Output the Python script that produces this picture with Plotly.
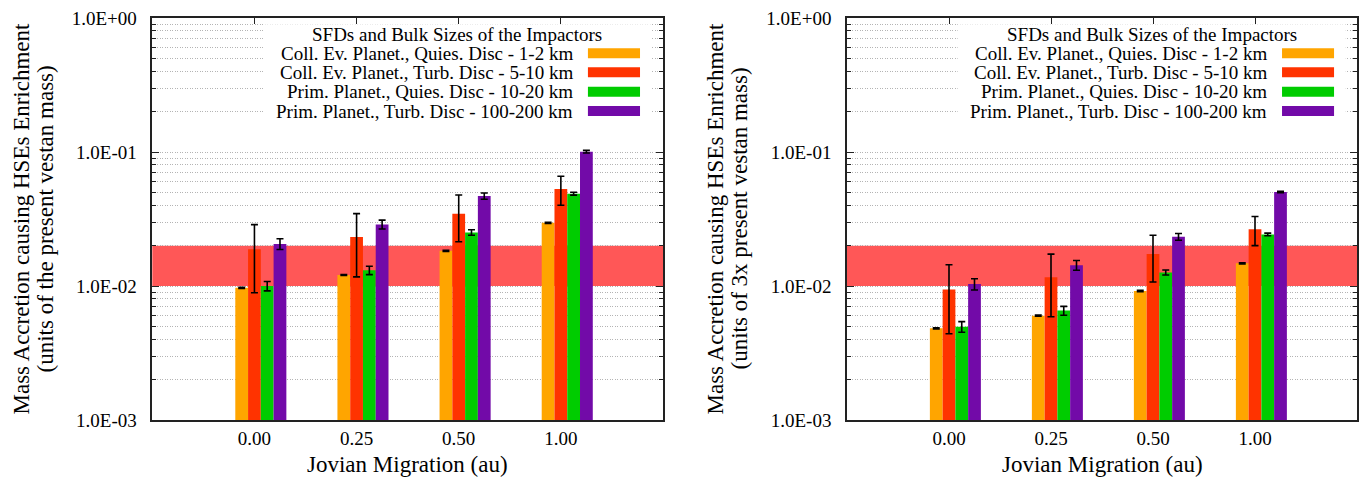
import plotly.graph_objects as go

# ---------------- data ----------------
migration = ["0.00", "0.25", "0.50", "1.00"]

series_names = [
    "Coll. Ev. Planet., Quies. Disc - 1-2 km",
    "Coll. Ev. Planet., Turb. Disc - 5-10 km",
    "Prim. Planet., Quies. Disc - 10-20 km",
    "Prim. Planet., Turb. Disc - 100-200 km",
]
legend_title = "SFDs and Bulk Sizes of the Impactors"
series_colors = ["#ffa500", "#ff3300", "#00cc00", "#720aa8"]

# left panel: units of the present vestan mass
left_coll_quies = [0.0097, 0.0121, 0.0183, 0.0296]
left_coll_quies_err = [0.0001, 0.0001, 0.0002, 0.0003]
left_coll_turb = [0.0188, 0.0232, 0.0346, 0.0530]
left_coll_turb_err = [0.0099, 0.0115, 0.0132, 0.0130]
left_prim_quies = [0.0100, 0.0131, 0.0251, 0.0489]
left_prim_quies_err = [0.0008, 0.00095, 0.0012, 0.0012]
left_prim_turb = [0.0206, 0.0288, 0.0469, 0.1006]
left_prim_turb_err = [0.0019, 0.0022, 0.0025, 0.0023]

# right panel: units of 3x present vestan mass
right_coll_quies = [0.00483, 0.0060, 0.00918, 0.01476]
right_coll_quies_err = [0.00005, 0.00006, 0.0001, 0.00015]
right_coll_turb = [0.0094, 0.0116, 0.0173, 0.0265]
right_coll_turb_err = [0.0050, 0.0057, 0.0066, 0.0065]
right_prim_quies = [0.00497, 0.00655, 0.01262, 0.02427]
right_prim_quies_err = [0.00045, 0.0005, 0.00055, 0.00055]
right_prim_turb = [0.01033, 0.0143, 0.0233, 0.0503]
right_prim_turb_err = [0.0010, 0.0012, 0.00135, 0.0007]

band_low = 0.01
band_high = 0.02

ytick_vals = [0.001, 0.01, 0.1, 1.0]
ytick_text = ["1.0E-03", "1.0E-02", "1.0E-01", "1.0E+00"]
minor_vals = [m * 10.0 ** e for e in (-3, -2, -1) for m in range(2, 10)]

x_title = "Jovian Migration (au)"
left_ytitle = ["Mass Accretion causing HSEs Enrichment", "(units of the present vestan mass)"]
right_ytitle = ["Mass Accretion causing HSEs Enrichment", "(units of 3x present vestan mass)"]

# ---------------- figure ----------------
W, H = 1363, 479
FONT = "Liberation Serif, Times New Roman, serif"
top_px, bottom_px = 18, 420
left_dom = [152.3 / W, 663 / W]
right_dom = [847 / W, 1357 / W]
GRID = "#b4b4b4"
GRIDDASH = "1px,1.5px"

panels = [
    dict(xa="x", ya="y", dom=left_dom,
         vals=[left_coll_quies, left_coll_turb, left_prim_quies, left_prim_turb],
         errs=[left_coll_quies_err, left_coll_turb_err, left_prim_quies_err, left_prim_turb_err],
         ytitle=left_ytitle, ytitle_px=[20.5, 44.5]),
    dict(xa="x2", ya="y2", dom=right_dom,
         vals=[right_coll_quies, right_coll_turb, right_prim_quies, right_prim_turb],
         errs=[right_coll_quies_err, right_coll_turb_err, right_prim_quies_err, right_prim_turb_err],
         ytitle=right_ytitle, ytitle_px=[714.5, 738.5]),
]

bar_w = 0.125
xpos = list(range(len(migration)))

fig = go.Figure()
shapes = []
annotations = []
layout_axes = {}

plot_h = bottom_px - top_px

def ydom(px):
    return 1 - (px - top_px) / plot_h

for k, p in enumerate(panels):
    for i, (v, e) in enumerate(zip(p["vals"], p["errs"])):
        fig.add_trace(go.Bar(
            x=xpos, y=v, width=bar_w, offset=(i - 1) * bar_w - bar_w / 2,
            marker=dict(color=series_colors[i], line=dict(width=0)),
            error_y=dict(type="data", array=e, color="black", thickness=1.6, width=3.5),
            xaxis=p["xa"], yaxis=p["ya"], showlegend=False, name=series_names[i],
        ))
    sfx = "" if k == 0 else "2"
    layout_axes["xaxis" + sfx] = dict(
        domain=p["dom"], range=[-1, 4], anchor=p["ya"],
        tickmode="array", tickvals=xpos, ticktext=migration,
        ticks="inside", ticklen=6, tickwidth=1.2, tickcolor="#222",
        showline=True, linecolor="#222", linewidth=1.5, mirror="ticks",
        showgrid=False, zeroline=False, layer="below traces",
        tickfont=dict(family=FONT, size=19, color="black"), ticklabelstandoff=0,
    )
    layout_axes["yaxis" + sfx] = dict(
        domain=[0, 1], type="log", range=[-3, 0], anchor=p["xa"],
        tickmode="array", tickvals=ytick_vals, ticktext=ytick_text,
        ticks="inside", ticklen=7, tickwidth=1.2, tickcolor="#222",
        showline=True, linecolor="#222", linewidth=1.5, mirror="allticks",
        showgrid=True, gridcolor=GRID, gridwidth=1, griddash=GRIDDASH,
        minor=dict(tickmode="array", tickvals=minor_vals, ticks="inside", ticklen=4,
                   tickwidth=1, tickcolor="#222", showgrid=True,
                   gridcolor=GRID, gridwidth=1, griddash=GRIDDASH),
        zeroline=False,
        tickfont=dict(family=FONT, size=19, color="black"), ticklabelstandoff=10,
    )
    xd = p["xa"] + " domain"
    yd = p["ya"] + " domain"
    # red band
    shapes.append(dict(type="rect", xref=xd, yref=p["ya"], x0=0, x1=1,
                       y0=band_low, y1=band_high, fillcolor="#ff5757",
                       line=dict(width=0), layer="below"))
    # legend background (kept below the top tick marks)
    shapes.append(dict(type="rect", xref=xd, yref=yd, x0=0.2168, x1=0.978,
                       y0=ydom(122), y1=ydom(24.2), fillcolor="white",
                       line=dict(width=0), layer="above"))
    annotations.append(dict(text=legend_title, xref=xd, yref=yd, x=0.5976, y=ydom(34.3),
                            xanchor="center", yanchor="middle", showarrow=False,
                            font=dict(family=FONT, size=19, color="black")))
    rows = [53.3, 72.3, 91.7, 111.0]
    for i, name in enumerate(series_names):
        annotations.append(dict(text=name, xref=xd, yref=yd, x=0.8277, y=ydom(rows[i]),
                                xanchor="right", yanchor="middle", showarrow=False,
                                font=dict(family=FONT, size=19, color="black")))
        shapes.append(dict(type="rect", xref=xd, yref=yd, x0=0.853, x1=0.955,
                           y0=ydom(rows[i] + 5), y1=ydom(rows[i] - 5),
                           fillcolor=series_colors[i], line=dict(width=0), layer="above"))
    # axis titles
    annotations.append(dict(text=x_title, xref=xd, yref=yd, x=0.5, y=ydom(464),
                            xanchor="center", yanchor="middle", showarrow=False,
                            font=dict(family=FONT, size=23, color="black")))
    for line, px in zip(p["ytitle"], p["ytitle_px"]):
        annotations.append(dict(text=line, xref="paper", yref=yd, x=px / W, y=0.5,
                                xanchor="center", yanchor="middle", textangle=-90,
                                showarrow=False,
                                font=dict(family=FONT, size=23, color="black")))

fig.update_layout(
    width=W, height=H, autosize=False,
    margin=dict(l=0, r=0, t=top_px, b=H - bottom_px),
    paper_bgcolor="white", plot_bgcolor="white",
    barmode="overlay", showlegend=False,
    shapes=shapes, annotations=annotations,
    **layout_axes,
)

fig.write_html("out.html")
